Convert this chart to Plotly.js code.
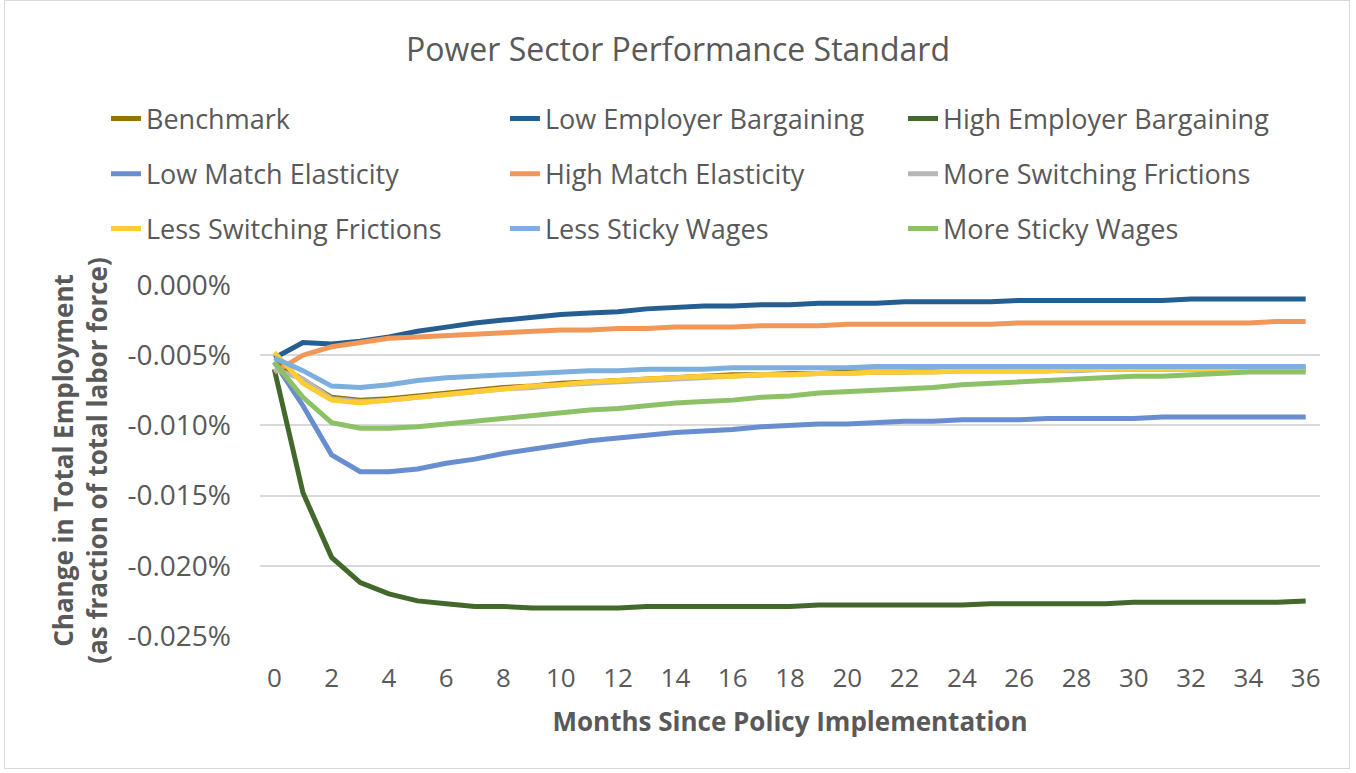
<!DOCTYPE html>
<html>
<head>
<meta charset="utf-8">
<script src="https://cdn.plot.ly/plotly-3.0.1.min.js"></script>
<style>
  html, body { margin: 0; padding: 0; background: #ffffff; }
  #frame { position: absolute; left: 4px; top: 0px; width: 1346px; height: 769px; border: 1px solid #d9d9d9; box-sizing: border-box; }
  #chart { position: absolute; left: 0; top: 0; width: 1356px; height: 773px; }
</style>
</head>
<body>
<div id="frame"></div>
<div id="chart"></div>
<script>
// Months since implementation
const months = [0,1,2,3,4,5,6,7,8,9,10,11,12,13,14,15,16,17,18,19,20,21,22,23,24,25,26,27,28,29,30,31,32,33,34,35,36];

// Values in percent of total labor force
const benchmark = [-0.0055,-0.0068,-0.0080,-0.0082,-0.0081,-0.0079,-0.0077,-0.0075,-0.0073,-0.0072,-0.0070,-0.0069,-0.0068,-0.0067,-0.0066,-0.0065,-0.0064,-0.0064,-0.0063,-0.0063,-0.0062,-0.0062,-0.0062,-0.0061,-0.0061,-0.0061,-0.0061,-0.0061,-0.0060,-0.0060,-0.0060,-0.0060,-0.0060,-0.0060,-0.0060,-0.0060,-0.0060];
const lowEmployerBargaining = [-0.0052,-0.0041,-0.0042,-0.0040,-0.0037,-0.0033,-0.0030,-0.0027,-0.0025,-0.0023,-0.0021,-0.0020,-0.0019,-0.0017,-0.0016,-0.0015,-0.0015,-0.0014,-0.0014,-0.0013,-0.0013,-0.0013,-0.0012,-0.0012,-0.0012,-0.0012,-0.0011,-0.0011,-0.0011,-0.0011,-0.0011,-0.0011,-0.0010,-0.0010,-0.0010,-0.0010,-0.0010];
const highEmployerBargaining = [-0.0060,-0.0148,-0.0194,-0.0212,-0.0220,-0.0225,-0.0227,-0.0229,-0.0229,-0.0230,-0.0230,-0.0230,-0.0230,-0.0229,-0.0229,-0.0229,-0.0229,-0.0229,-0.0229,-0.0228,-0.0228,-0.0228,-0.0228,-0.0228,-0.0228,-0.0227,-0.0227,-0.0227,-0.0227,-0.0227,-0.0226,-0.0226,-0.0226,-0.0226,-0.0226,-0.0226,-0.0225];
const lowMatchElasticity = [-0.0055,-0.0086,-0.0121,-0.0133,-0.0133,-0.0131,-0.0127,-0.0124,-0.0120,-0.0117,-0.0114,-0.0111,-0.0109,-0.0107,-0.0105,-0.0104,-0.0103,-0.0101,-0.0100,-0.0099,-0.0099,-0.0098,-0.0097,-0.0097,-0.0096,-0.0096,-0.0096,-0.0095,-0.0095,-0.0095,-0.0095,-0.0094,-0.0094,-0.0094,-0.0094,-0.0094,-0.0094];
const highMatchElasticity = [-0.0062,-0.0050,-0.0044,-0.0041,-0.0038,-0.0037,-0.0036,-0.0035,-0.0034,-0.0033,-0.0032,-0.0032,-0.0031,-0.0031,-0.0030,-0.0030,-0.0030,-0.0029,-0.0029,-0.0029,-0.0028,-0.0028,-0.0028,-0.0028,-0.0028,-0.0028,-0.0027,-0.0027,-0.0027,-0.0027,-0.0027,-0.0027,-0.0027,-0.0027,-0.0027,-0.0026,-0.0026];
const moreSwitchingFrictions = [-0.0060,-0.0067,-0.0081,-0.0083,-0.0082,-0.0080,-0.0078,-0.0076,-0.0074,-0.0073,-0.0071,-0.0070,-0.0069,-0.0068,-0.0067,-0.0066,-0.0065,-0.0064,-0.0064,-0.0063,-0.0063,-0.0062,-0.0062,-0.0062,-0.0061,-0.0061,-0.0061,-0.0061,-0.0061,-0.0060,-0.0060,-0.0060,-0.0060,-0.0060,-0.0060,-0.0060,-0.0060];
const lessSwitchingFrictions = [-0.0048,-0.0070,-0.0082,-0.0084,-0.0082,-0.0080,-0.0078,-0.0076,-0.0074,-0.0072,-0.0071,-0.0069,-0.0068,-0.0067,-0.0066,-0.0065,-0.0065,-0.0064,-0.0064,-0.0063,-0.0063,-0.0062,-0.0062,-0.0062,-0.0061,-0.0061,-0.0061,-0.0061,-0.0060,-0.0060,-0.0060,-0.0060,-0.0060,-0.0060,-0.0060,-0.0060,-0.0060];
const lessStickyWages = [-0.0052,-0.0061,-0.0072,-0.0073,-0.0071,-0.0068,-0.0066,-0.0065,-0.0064,-0.0063,-0.0062,-0.0061,-0.0061,-0.0060,-0.0060,-0.0060,-0.0059,-0.0059,-0.0059,-0.0059,-0.0059,-0.0058,-0.0058,-0.0058,-0.0058,-0.0058,-0.0058,-0.0058,-0.0058,-0.0058,-0.0058,-0.0058,-0.0058,-0.0058,-0.0058,-0.0058,-0.0058];
const moreStickyWages = [-0.0055,-0.0080,-0.0098,-0.0102,-0.0102,-0.0101,-0.0099,-0.0097,-0.0095,-0.0093,-0.0091,-0.0089,-0.0088,-0.0086,-0.0084,-0.0083,-0.0082,-0.0080,-0.0079,-0.0077,-0.0076,-0.0075,-0.0074,-0.0073,-0.0071,-0.0070,-0.0069,-0.0068,-0.0067,-0.0066,-0.0065,-0.0065,-0.0064,-0.0063,-0.0062,-0.0062,-0.0062];

const seriesNames = ["Benchmark","Low Employer Bargaining","High Employer Bargaining","Low Match Elasticity","High Match Elasticity","More Switching Frictions","Less Switching Frictions","Less Sticky Wages","More Sticky Wages"];
const seriesValues = [benchmark, lowEmployerBargaining, highEmployerBargaining, lowMatchElasticity, highMatchElasticity, moreSwitchingFrictions, lessSwitchingFrictions, lessStickyWages, moreStickyWages];
const seriesColors = ["#997300","#255e91","#43682b","#698ed0","#f1975a","#b7b7b7","#ffcd33","#7cafdd","#8cc168"];

const tickVals = [0,2,4,6,8,10,12,14,16,18,20,22,24,26,28,30,32,34,36];
const yTickVals = [0,-0.005,-0.010,-0.015,-0.020,-0.025];

const FONT = "Open Sans, sans-serif";
const GREY = "#595959";

// legend grid: 3 columns x 3 rows (paper coordinates relative to plot area)
const legendCols = [-0.1453, 0.2311, 0.6066];
const legendRows = [1.473, 1.316, 1.160];

const legendKeys = seriesNames.map((n, i) => i === 0 ? "legend" : "legend" + (i + 1));

const traces = seriesNames.map((n, i) => ({
  type: "scatter", mode: "lines", name: n,
  x: months, y: seriesValues[i],
  line: { color: seriesColors[i], width: 5 },
  legend: legendKeys[i],
  hoverinfo: "x+y+name"
}));

const layout = {
  width: 1356, height: 773,
  paper_bgcolor: "rgba(0,0,0,0)", plot_bgcolor: "rgba(0,0,0,0)",
  margin: { l: 260, r: 36, t: 285, b: 137 },
  title: { text: "Power Sector Performance Standard", font: { family: FONT, size: 32, color: GREY }, x: 0.5, xanchor: "center", y: 0.935, yanchor: "middle" },
  showlegend: true,
  xaxis: {
    range: [-0.5, 36.5], tickvals: tickVals, ticktext: tickVals.map(String),
    showgrid: false, zeroline: false, showline: false, ticks: "",
    tickfont: { family: FONT, size: 26, color: GREY }, ticklabelstandoff: 24,
    title: { text: "<b>Months Since Policy Implementation</b>", font: { family: FONT, size: 26, color: GREY }, standoff: 18 }
  },
  yaxis: {
    range: [-0.025, 0], tickvals: yTickVals, ticktext: yTickVals.map(v => v.toFixed(3) + "%"),
    showgrid: true, gridcolor: "#d9d9d9", gridwidth: 1.8, zeroline: false, showline: false, ticks: "",
    tickfont: { family: FONT, size: 28, color: GREY }, ticklabelstandoff: 28,
    title: { text: "<b>Change in Total Employment<br>(as fraction of total labor force)</b>", font: { family: FONT, size: 26, color: GREY }, standoff: 12 }
  },
  hovermode: "closest"
};

legendKeys.forEach((k, i) => {
  layout[k] = {
    orientation: "h", x: legendCols[i % 3], xanchor: "left",
    y: legendRows[Math.floor(i / 3)], yanchor: "middle",
    font: { family: FONT, size: 27, color: GREY },
    bgcolor: "rgba(0,0,0,0)", itemwidth: 30
  };
});

Plotly.newPlot("chart", traces, layout, { displayModeBar: false, responsive: false });
</script>
</body>
</html>
